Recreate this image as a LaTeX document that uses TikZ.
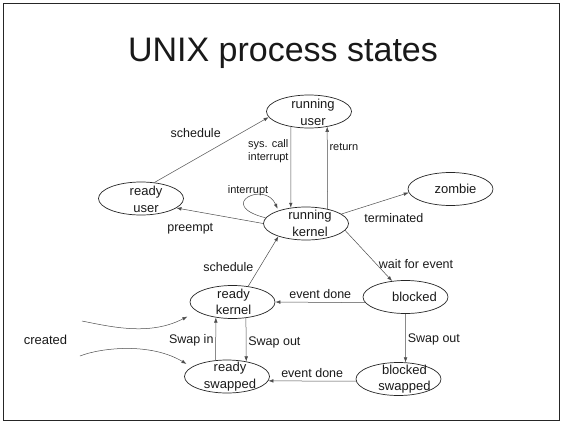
\documentclass[tikz,border=0pt]{standalone}
\usepackage{fontspec}
\setmainfont{Liberation Sans}
\usetikzlibrary{arrows.meta}
\usetikzlibrary{shapes.geometric}

\begin{document}
\begin{tikzpicture}[x=1pt,y=-1pt,>={Latex[length=5pt,width=3.6pt]},
    state/.style={ellipse,draw=black!85,line width=0.7pt,minimum width=85pt,minimum height=33pt,inner sep=0pt},
    state text/.style={font=\fontsize{13}{16.5}\selectfont,align=center,inner sep=0pt,text=black!90},
    trans/.style={->,draw=black!70,line width=0.5pt},
    edge label/.style={font=\fontsize{12.5}{14}\selectfont,inner sep=2pt,text=black!90},
    small label/.style={font=\fontsize{11}{13}\selectfont,inner sep=2pt,align=left,text=black!90}]

    % frame and title
    \useasboundingbox (0,0) rectangle (563,424);
    \draw[line width=1.3pt,black!85] (3.5,3.5) rectangle (559.5,420.5);
    \node[font=\fontsize{34}{40}\selectfont,anchor=base,text=black!90] (title) at (283,61) {UNIX process states};

    % states
    \node[state,label={[state text,xshift=4pt,yshift=-1pt,name=runuser-t]center:running\\user}]      (runuser)        at (309,111.5) {};
    \node[state,label={[state text,xshift=5pt,yshift=-1pt,name=readyuser-t]center:ready\\user}]      (readyuser)      at (141,198.5) {};
    \node[state,label={[state text,xshift=4pt,name=runkernel-t]center:running\\kernel}]             (runkernel)      at (306,223.5) {};
    \node[state,label={[state text,xshift=5pt,name=zombie-t]center:zombie}]                           (zombie)         at (450.5,189) {};
    \node[state,label={[state text,xshift=1pt,name=readykernel-t]center:ready\\kernel}]             (readykernel)    at (232.5,302) {};
    \node[state,label={[state text,xshift=9pt,name=blocked-t]center:blocked}]                         (blocked)        at (405.5,297) {};
    \node[state,label={[state text,xshift=3pt,name=readyswapped-t]center:ready\\swapped}]           (readyswapped)   at (227,376.5) {};
    \node[state,label={[state text,xshift=6pt,name=blockedswapped-t]center:blocked\\swapped}]       (blockedswapped) at (398.5,379) {};

    \node[edge label,font=\fontsize{13}{15}\selectfont,anchor=base] (created) at (45.5,344) {created};
    \coordinate (newA) at (82,321);
    \coordinate (newB) at (80,356);

    % transitions
    \path
        (readyuser.50)       edge[trans] node[edge label,pos=0.6,anchor=south east,yshift=3pt] {schedule} (runuser.188)
        (runuser.220)        edge[trans] node[small label,pos=0.3,left]   {sys. call\\interrupt} (runkernel.134)
        (runkernel.34)       edge[trans] node[small label,pos=0.75,right] {return} (runuser.320)
        (runkernel.180)      edge[trans] node[edge label,pos=0.84,below=11pt] {preempt} (readyuser.345)
        (runkernel.15)       edge[trans] node[edge label,pos=0.78,below=14pt] {terminated} (zombie.185)
        (runkernel.350)      edge[trans] node[edge label,pos=0.67,right] {wait for event} (blocked.130)
        (readykernel.45)     edge[trans] node[edge label,pos=0.38,left=4pt] {schedule} (runkernel.205)
        (blocked.188)        edge[trans] node[edge label,midway,above=1pt] {event done} (readykernel.east)
        (readykernel.310)    edge[trans] node[edge label,pos=0.57,right] {Swap out} (readyswapped.38)
        (readyswapped.125)   edge[trans] node[edge label,pos=0.47,left] {Swap in} (readykernel.223)
        (blocked.south)      edge[trans] node[edge label,pos=0.52,right] {Swap out} (blockedswapped.67)
        (blockedswapped.183) edge[trans] node[edge label,midway,above=1pt] {event done} (readyswapped.354);

    % interrupt loop
    \draw[trans,shorten >=2pt] (runkernel.172) .. controls (215,205) and (265,180) .. (runkernel.155)
        node[small label,pos=0.5,above] {interrupt};

    % creation
    \draw[trans,shorten >=11pt] (newA) .. controls (112,327) and (150,336) .. (readykernel.195);
    \draw[trans,shorten >=6pt] (newB) .. controls (100,348) and (150,342) .. (readyswapped.165);
\end{tikzpicture}
\end{document}
